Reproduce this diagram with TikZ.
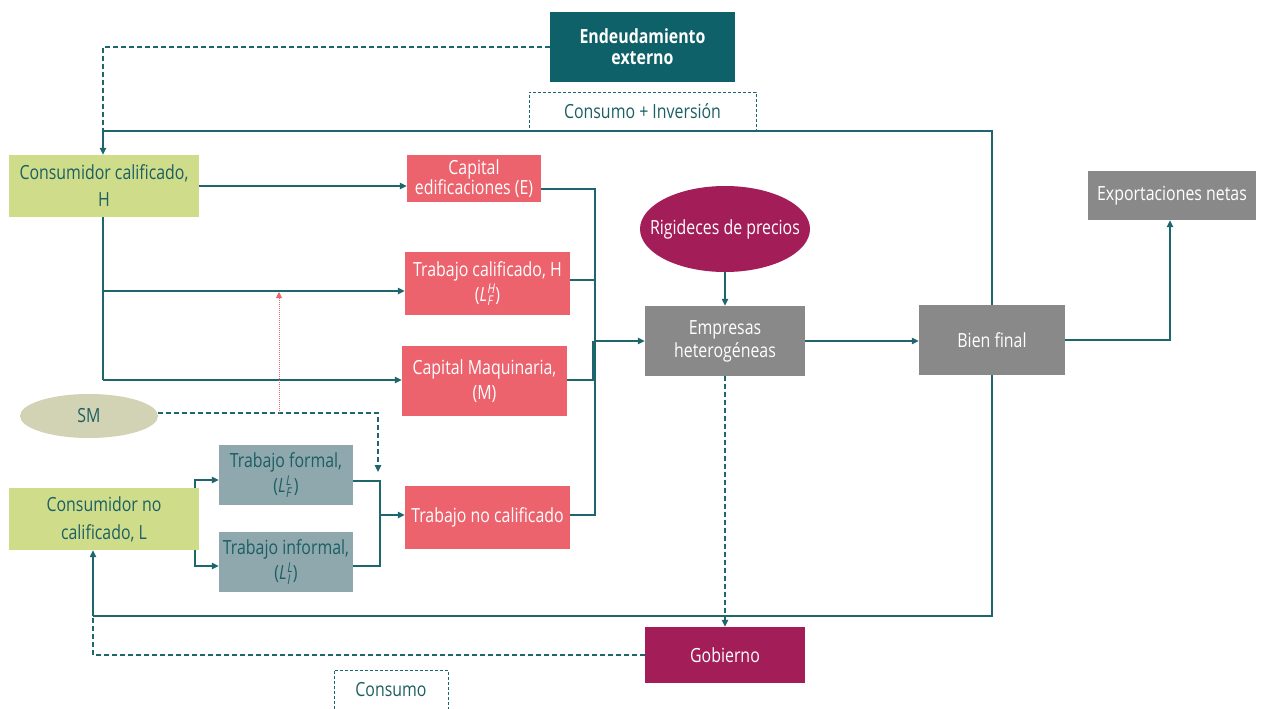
\documentclass[tikz,border=0pt]{standalone}
\usepackage{fontspec}
\setmainfont{Open Sans}[FakeStretch=0.815]
\usetikzlibrary{arrows.meta,shapes.geometric}

\definecolor{lineteal}{HTML}{1D666C}
\definecolor{textteal}{HTML}{1B5E63}
\definecolor{deepteal}{HTML}{0E6168}
\definecolor{leafgreen}{HTML}{CFDD8B}
\definecolor{coral}{HTML}{EC636E}
\definecolor{stone}{HTML}{898989}
\definecolor{berry}{HTML}{A31E58}
\definecolor{sage}{HTML}{D2D3B4}
\definecolor{slate}{HTML}{8FA8AE}

% italic L with italic labour-type indices (upper over lower)
\newcommand{\scrfont}{\fontsize{13.5}{13.5}\selectfont\itshape}
\newcommand{\Lvar}[2]{\textit{L}\kern0.5pt\rlap{\raisebox{7.5pt}{\scrfont #1}}\raisebox{-4.5pt}{\scrfont #2}\kern2.5pt}
\newcommand{\fs}[1]{\fontsize{19.5}{#1}\selectfont}

\begin{document}
\begin{tikzpicture}[x=1pt,y=-1pt,
  box/.style={rectangle, inner sep=1pt, align=center, text=white, font=\fs{24}},
  conn/.style={draw=lineteal, line width=1.3pt},
  dashln/.style={draw=lineteal, line width=1.2pt, dash pattern=on 5pt off 3pt},
  tip/.style={-{Triangle[length=7pt,width=6.5pt]}},
]
\useasboundingbox (0,0) rectangle (1264,709);

% ---- nodes ----
\node[box, fill=deepteal, minimum width=185pt, minimum height=70pt,
      font=\bfseries\fs{21}] (endeu) at (642.5,47) {Endeudamiento\\externo};
\node[box, draw=lineteal, line width=1pt, dash pattern=on 3pt off 2pt, text=textteal,
      minimum width=227pt, minimum height=38pt] (consinv) at (642.5,111) {Consumo + Inversión};

\node[box, fill=leafgreen, text=textteal, minimum width=190pt, minimum height=62pt,
      font=\fs{27}] (ccal) at (104,186) {Consumidor calificado,\\H};
\node[box, fill=leafgreen, text=textteal, minimum width=190pt, minimum height=62pt,
      font=\fs{28}] (cnc) at (104,519) {Consumidor no\\calificado, L};

\node[box, fill=coral, minimum width=134pt, minimum height=47pt,
      font=\fs{17}] (capE) at (474,178.5) {Capital\\edificaciones (E)};
\node[box, fill=coral, minimum width=165pt, minimum height=63pt,
      font=\fs{25}] (tcal) at (487.5,283.5) {Trabajo calificado, H\\(\Lvar{H}{F})};
\node[box, fill=coral, minimum width=165pt, minimum height=70pt,
      font=\fs{25}] (capM) at (484.5,381) {Capital Maquinaria,\\(M)};
\node[box, fill=coral, minimum width=165pt, minimum height=63pt] (tnc) at (487.5,517.5) {Trabajo no calificado};

\node[box, fill=slate, text=textteal, minimum width=134pt, minimum height=60pt,
      font=\fs{25}] (tfor) at (286,475) {Trabajo formal,\\(\Lvar{L}{F})};
\node[box, fill=slate, text=textteal, minimum width=134pt, minimum height=60pt,
      font=\fs{25}] (tinf) at (286,562) {Trabajo informal,\\(\Lvar{L}{I})};

\node[ellipse, fill=sage, text=textteal, minimum width=138pt, minimum height=44pt,
      inner sep=0pt, font=\fs{24}] (sm) at (89,416) {SM};
\node[ellipse, fill=berry, text=white, minimum width=170pt, minimum height=86pt,
      inner xsep=-16pt, inner ysep=0pt, font=\fs{24}] (rig) at (725,229) {Rigideces de precios};

\node[box, fill=stone, minimum width=160pt, minimum height=70pt,
      font=\fs{23}] (emp) at (725,341) {Empresas\\heterogéneas};
\node[box, fill=stone, minimum width=146pt, minimum height=70pt] (bien) at (992,340) {Bien final};
\node[box, fill=stone, minimum width=168pt, minimum height=49pt] (expo) at (1172,195.5) {Exportaciones netas};
\node[box, fill=berry, minimum width=160pt, minimum height=56pt] (gob) at (725,655) {Gobierno};

% open-bottom dashed frame with its label
\node[text=textteal, font=\fs{24}] (cons) at (391,690) {Consumo};
\draw[draw=lineteal, line width=1pt, dash pattern=on 3pt off 2pt]
  (334,709) -- (334,670) -- (448,670) -- (448,709);

% ---- junction points ----
\coordinate (topL) at (103,131);
\coordinate (topR) at (992,131);
\coordinate (botL) at (93,616);
\coordinate (botR) at (992,616);
\coordinate (colx) at (595,341);
\coordinate (smx) at (378,413);

% ---- external debt and top feedback ----
\draw[dashln] (endeu.west) -- (103,47) -- (topL);
\draw[conn] (bien.north) -- (topR) -- (topL);
\draw[conn,tip] (topL) -- (ccal.north -| topL);

% ---- skilled consumer to inputs ----
\draw[conn,tip] (ccal.east) -- (capE.west |- ccal.east);
\draw[conn] (ccal.south -| topL) -- (103,380);
\draw[conn,tip] (103,291) -- (tcal.west |- 0,291);
\draw[conn,tip] (103,380) -- (capM.west |- 0,380);

% ---- inputs collected into firms ----
\draw[conn] (capE.east |- 0,189) -- (595,189) -- (595,515) -- (tnc.east |- 0,515);
\draw[conn] (tcal.east |- 0,280) -- (595,280);
\draw[conn] (capM.east |- 0,380) -- (593,380) -- (593,341);
\draw[conn,tip] (colx) -- (emp.west);

% ---- firms, final good, exports ----
\draw[conn,tip] (rig.south) -- (emp.north);
\draw[conn,tip] (emp.east) -- (bien.west |- emp.east);
\draw[conn,tip] (bien.east) -- (1170,340) -- (expo.south -| 1170,0);

% ---- bottom feedback to unskilled consumer ----
\draw[conn] (bien.south) -- (botR) -- (botL);
\draw[conn,tip] (botL) -- (cnc.south -| botL);
\draw[dashln,tip] (emp.south) -- (gob.north);
\draw[dashln] (gob.west) -- (93,655) -- (botL);

% ---- unskilled labour split ----
\draw[conn,tip] (195,488) -- (195,480) -- (tfor.west |- 0,480);
\draw[conn,tip] (195,550) -- (195,566) -- (tinf.west |- 0,566);
\draw[conn] (tfor.east |- 0,481) -- (380,481) -- (380,566) -- (tinf.east |- 0,566);
\draw[conn,tip] (380,515) -- (tnc.west |- 0,515);

% ---- minimum wage ----
\draw[dashln,tip] (sm.east |- smx) -- (smx) -- (378,472);
\draw[draw=coral, line width=1pt, dash pattern=on 1pt off 1pt,
      -{Triangle[length=6pt,width=6pt]}] (279,413) -- (279,292);
\end{tikzpicture}
\end{document}
